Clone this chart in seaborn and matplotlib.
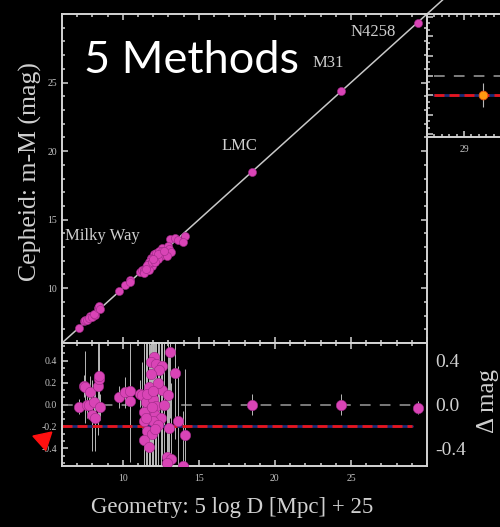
import matplotlib
matplotlib.use("Agg")
import matplotlib.pyplot as plt
from matplotlib.ticker import MultipleLocator, FixedLocator, FormatStrFormatter
import pandas as pd
import seaborn as sns

# Geometric distance moduli (5 log D[Mpc] + 25) of Cepheid hosts
geo_mod = [7.10, 7.45, 7.50, 7.65, 7.85, 7.80, 8.00, 8.15, 8.10, 8.35, 8.40, 8.45, 8.50,
           9.75, 10.15, 10.45, 10.45, 11.10,
           13.10, 12.05, 11.83, 12.20, 12.55, 12.40, 11.83, 13.40, 11.24, 11.74,
           12.56, 12.95, 11.53, 12.00, 12.20, 11.80, 11.40, 12.10, 12.50, 11.97,
           11.40, 13.65, 12.33, 13.06, 11.57, 11.90, 14.10, 11.40, 11.70, 12.90,
           13.15, 12.90, 13.95, 11.60, 12.30, 11.90, 12.70, 12.10, 11.50, 12.00]
# Cepheid minus geometric modulus (mag)
delta_mag = [-0.02, 0.17, 0.16, 0.00, 0.11, 0.00, -0.10, -0.12, 0.02, 0.17, 0.23, 0.26, -0.02,
             0.07, 0.11, 0.12, 0.03, 0.10,
             0.48, 0.43, 0.39, 0.37, 0.35, 0.31, 0.28, 0.29, 0.09, 0.16,
             0.13, 0.09, 0.02, 0.05, -0.01, -0.05, -0.07, -0.10, -0.12, -0.15,
             -0.15, -0.15, -0.19, -0.21, -0.24, -0.27, -0.28, -0.32, -0.39, -0.48,
             -0.50, -0.53, -0.56, 0.10, 0.20, -0.02, 0.00, -0.22, -0.12, 0.12]
delta_err = [0.07, 0.10, 0.33, 0.12, 0.15, 0.10, 0.32, 0.30, 0.12, 0.45, 0.20, 0.40, 0.12,
             0.10, 0.14, 0.18, 0.55, 0.12,
             0.60, 0.70, 0.50, 0.60, 0.80, 0.50, 0.70, 0.60, 0.30, 0.80,
             0.60, 0.70, 0.90, 0.70, 0.80, 0.60, 0.90, 0.70, 0.80, 0.60,
             0.70, 0.50, 0.90, 0.70, 0.80, 0.60, 0.60, 0.80, 0.70, 0.60,
             0.70, 0.50, 0.50, 0.70, 0.60, 0.80, 0.60, 0.70, 0.60, 0.50]

# Distance anchors
anchor_geo = [18.48, 24.36, 29.40]
anchor_delta = [0.00, 0.00, -0.03]
anchor_err = [0.10, 0.10, 0.06]

# Galaxy labels in the upper panel
label_text = ["Milky Way", "LMC", "M31", "N4258"]
label_x = [6.2, 16.5, 22.5, 25.0]
label_y = [13.8, 20.35, 26.4, 28.7]

offset_line = -0.20          # mean offset of the five methods
inset_point = (29.5, -0.20)  # orange comparison point
inset_err = 0.12

hosts = pd.DataFrame({"geo": geo_mod, "delta": delta_mag, "err": delta_err})
hosts["cep"] = hosts["geo"] + hosts["delta"]
anchors = pd.DataFrame({"geo": anchor_geo, "delta": anchor_delta, "err": anchor_err})
anchors["cep"] = anchors["geo"] + anchors["delta"]
allpts = pd.concat([hosts, anchors], ignore_index=True)

sns.set_theme(style="dark")
plt.rcParams.update({
    "figure.facecolor": "black",
    "axes.facecolor": "black",
    "savefig.facecolor": "black",
    "axes.edgecolor": "#d4d4d4",
    "axes.linewidth": 1.4,
    "xtick.color": "#d4d4d4",
    "ytick.color": "#d4d4d4",
    "xtick.labelcolor": "#c4c4c4",
    "ytick.labelcolor": "#c4c4c4",
    "text.color": "#d0d0d0",
    "axes.grid": False,
})
plt.rcParams["font.family"] = ["Liberation Serif", "DejaVu Serif"]

W, H = 500, 527
fig = plt.figure(figsize=(W / 100, H / 100), dpi=100)


def px_axes(left, top, right, bottom):
    return fig.add_axes([left / W, 1 - bottom / H, (right - left) / W, (bottom - top) / H])


ax_main = px_axes(62, 14, 427, 343)
ax_res = px_axes(62, 343, 427, 466)
ax_in = px_axes(427, 14, 540, 137)
ax_in.set_facecolor("none")

pink = "#d944b6"
pink_edge = "#9c2a85"


def style_ticks(ax, labelsize=7):
    ax.tick_params(which="both", direction="in", top=True, right=True,
                   bottom=True, left=True, labelsize=labelsize)
    ax.tick_params(which="major", length=4.5, width=1.1)
    ax.tick_params(which="minor", length=2.5, width=1.1)
    for s in ax.spines.values():
        s.set_color("#d4d4d4")
        s.set_linewidth(1.4)


# ---- upper panel: Cepheid vs geometric distance modulus ----
ax_main.set_xlim(6, 30)
ax_main.set_ylim(6, 30)
ax_main.plot([6, 31.4], [6, 31.4], color="#c8c8c8", lw=1.1, clip_on=False, zorder=2)
sns.scatterplot(data=allpts, x="geo", y="cep", ax=ax_main, color=pink, s=34,
                edgecolor=pink_edge, linewidth=0.4, zorder=3, legend=False)
ax_main.xaxis.set_major_locator(MultipleLocator(5))
ax_main.xaxis.set_minor_locator(MultipleLocator(1))
ax_main.yaxis.set_major_locator(MultipleLocator(5))
ax_main.yaxis.set_minor_locator(MultipleLocator(1))
ax_main.set_yticks([10, 15, 20, 25])
ax_main.tick_params(labelbottom=False)
style_ticks(ax_main)
ax_main.set_xlabel("")
ax_main.set_ylabel("")
for t, x, y in zip(label_text, label_x, label_y):
    ax_main.text(x, y, t, ha="left", va="center", fontsize=12, color="#cfcfcf")

# ---- residual panel ----
ax_res.set_xlim(6, 30)
ax_res.set_ylim(-0.56, 0.56)
ax_res.errorbar(allpts["geo"], allpts["delta"], yerr=allpts["err"], fmt="none",
                ecolor="#b8b8b8", elinewidth=0.7, zorder=2)
ax_res.plot([6, 29.0], [0, 0], color="#9a9a9a", lw=1.1, ls=(0, (7, 6)), zorder=1)
ax_res.plot([6, 29.0], [offset_line, offset_line], color="#1c2c78", lw=2.0, zorder=2)
ax_res.plot([6, 29.0], [offset_line, offset_line], color="#e8141c", lw=2.0,
            ls=(0, (3.6, 1.8)), zorder=2)
sns.scatterplot(data=allpts, x="geo", y="delta", ax=ax_res, color=pink, s=56,
                edgecolor=pink_edge, linewidth=0.4, zorder=3, legend=False)
ax_res.xaxis.set_major_locator(MultipleLocator(5))
ax_res.xaxis.set_minor_locator(MultipleLocator(1))
ax_res.set_xticks([10, 15, 20, 25])
ax_res.yaxis.set_major_locator(MultipleLocator(0.2))
ax_res.yaxis.set_minor_locator(MultipleLocator(0.2 / 3))
ax_res.yaxis.set_major_formatter(FormatStrFormatter("%.1f"))
style_ticks(ax_res)
ax_res.tick_params(axis="x", pad=6)
ax_res.set_xlabel("")
ax_res.set_ylabel("")
# pointer to the offset line
ax_res.plot([4.75], [-0.31], marker=(3, 0, 192), markersize=16, color="#ff1010",
            clip_on=False, zorder=5)

ax_res_r = ax_res.twinx()
ax_res_r.set_ylim(-0.56, 0.56)
ax_res_r.yaxis.set_major_locator(FixedLocator([-0.4, 0.0, 0.4]))
ax_res_r.yaxis.set_major_formatter(FormatStrFormatter("%.1f"))
ax_res_r.tick_params(axis="y", length=0, labelsize=14, pad=6, labelcolor="#d0d0d0")
for s in ax_res_r.spines.values():
    s.set_visible(False)

# ---- small right-hand panel ----
ax_in.set_xlim(28.0, 31.05)
ax_in.set_ylim(-0.63, 0.63)
ax_in.plot([28.2, 31.05], [0, 0], color="#a0a0a0", lw=1.1, ls=(0, (7, 6)), zorder=1)
ax_in.plot([28.2, 31.05], [offset_line, offset_line], color="#1c2c78", lw=2.0, zorder=2)
ax_in.plot([28.2, 31.05], [offset_line, offset_line], color="#e8141c", lw=2.0,
           ls=(0, (3.6, 1.8)), zorder=2)
ax_in.errorbar([inset_point[0]], [inset_point[1]], yerr=[inset_err], xerr=[0.08], fmt="none",
               ecolor="#b8b8b8", elinewidth=0.8, zorder=3)
sns.scatterplot(x=[inset_point[0]], y=[inset_point[1]], ax=ax_in, color="#ff9a10", s=40,
                edgecolor="#e05010", linewidth=0.6, zorder=4, legend=False)
ax_in.xaxis.set_major_locator(FixedLocator([29]))
ax_in.xaxis.set_minor_locator(MultipleLocator(0.2))
ax_in.yaxis.set_major_locator(MultipleLocator(0.2))
ax_in.yaxis.set_minor_locator(MultipleLocator(0.2 / 3))
style_ticks(ax_in)
ax_in.tick_params(labelleft=False, pad=6)
ax_in.set_xlabel("")
ax_in.set_ylabel("")

# ---- axis titles ----
fig.text(30 / W, 1 - 172 / H, "Cepheid: m-M (mag)", rotation=90, ha="center", va="center",
         fontsize=18.5, color="#d0d0d0")
fig.text(232 / W, 1 - 508 / H, "Geometry: 5 log D [Mpc] + 25", ha="center", va="center",
         fontsize=16.5, color="#d0d0d0")
fig.text(488 / W, 1 - 401 / H, "Δ mag", rotation=90, ha="center", va="center",
         fontsize=18, color="#d0d0d0")
fig.text(84 / W, 1 - 73 / H, "5 Methods", ha="left", va="baseline",
         fontsize=32.5, color="white", family=["Lato", "DejaVu Sans"])

fig.savefig("out.png", dpi=100)
